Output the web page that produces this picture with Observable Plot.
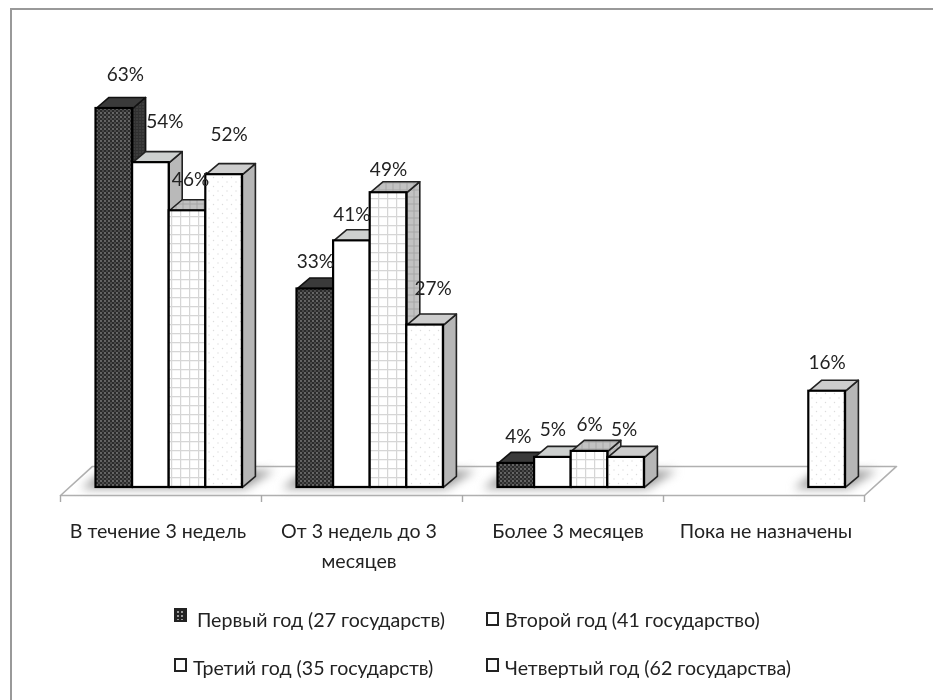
<!DOCTYPE html>
<html lang="ru"><head><meta charset="utf-8">
<script src="https://cdn.jsdelivr.net/npm/d3@7"></script>
<script src="https://cdn.jsdelivr.net/npm/@observablehq/plot@0.6"></script>
<style>
html,body{margin:0;padding:0;background:#fff}
body{width:933px;height:700px;position:relative;overflow:hidden;font-family:Lato,"Open Sans",sans-serif;color:#222}
#frame{position:absolute;left:10px;top:8px;width:923px;height:692px;border:0 solid #999;border-left-width:2px;border-top-width:2px;box-sizing:border-box}
#chart{position:absolute;left:0;top:0}
#chart svg{filter:blur(.45px)}
.leg{position:absolute;font-size:19.6px;line-height:20px;white-space:nowrap;filter:blur(.35px)}
.sw{position:absolute;width:13px;height:14px;box-sizing:border-box;border:2px solid #222}
</style></head><body>
<svg width="0" height="0" style="position:absolute"><defs>
<pattern id="pDark" width="4" height="4" patternUnits="userSpaceOnUse"><rect width="4" height="4" fill="#2b2b2b"/><circle cx="1" cy="1" r=".9" fill="#808080"/><circle cx="3" cy="3" r=".8" fill="#707070"/></pattern>
<pattern id="pDarkSide" width="3" height="3" patternUnits="userSpaceOnUse"><rect width="3" height="3" fill="#303030"/><circle cx="1.5" cy="1.5" r=".6" fill="#6a6a6a"/></pattern>
<pattern id="pGrid" width="9" height="9" patternUnits="userSpaceOnUse"><rect width="9" height="9" fill="#fff"/><path d="M0 .5H9M.5 0V9" stroke="#d6d6d6" stroke-width="1.4"/></pattern>
<pattern id="pGridSide" width="7" height="7" patternUnits="userSpaceOnUse"><rect width="7" height="7" fill="#c2c2c2"/><path d="M0 .5H7M.5 0V7" stroke="#a6a6a6" stroke-width="1"/></pattern>
<pattern id="pDots" width="9" height="9" patternUnits="userSpaceOnUse"><rect width="9" height="9" fill="#fff"/><circle cx="2" cy="2" r=".7" fill="#dcdcdc"/><circle cx="6.5" cy="6.5" r=".7" fill="#dcdcdc"/></pattern>
</defs></svg>
<div id="frame"></div>
<div id="chart"></div>
<script>
const categories = ["В течение 3 недель", "От 3 недель до 3\nмесяцев", "Более 3 месяцев", "Пока не назначены"];
const seriesNames = ["Первый год (27 государств)", "Второй год (41 государство)", "Третий год (35 государств)", "Четвертый год (62 государства)"];
const firstYear  = [63, 33, 4, null];
const secondYear = [54, 41, 5, null];
const thirdYear  = [46, 49, 6, null];
const fourthYear = [52, 27, 5, 16];
const series = [firstYear, secondYear, thirdYear, fourthYear];

// Look of each series: front, side and top face
const faces = [
  {front:"url(#pDark)", side:"url(#pDarkSide)", top:"#3a3a3a", edge:"#111"},
  {front:"#fff",        side:"#b9b9b9",         top:"#cdd0cf", edge:"#222"},
  {front:"url(#pGrid)", side:"url(#pGridSide)", top:"url(#pGridSide)", edge:"#222"},
  {front:"url(#pDots)", side:"#b6b6b6",         top:"#cdcdcd", edge:"#222"}
];
// Scale layout: one category is 201px wide, one percent is 6px tall
const pxX = 201, pxY = 6;
const gapX = 35.5 / pxX, barW = 36.6 / pxX;
const depthX = 13 / pxX, depthY = 11 / pxY;
const floorFront = -8 / pxY, floorBack = 21 / pxY, floorSkew = 32 / pxX;
// Pixel nudges of the data labels, per category and series [x, y above bar top]
const nudges = [
  [[11,34],[14,41],[3,31],[5,40]],
  [[0,27],[0,26],[0,23],[8,36]],
  [[2,26],[0,27],[0,26],[-2,27]],
  [[0,0],[0,0],[0,0],[0,28]]
];
const labelTicks = [.485, 1.485, 2.525, 3.51];

const poly = (pts, o) => Plot.line(pts, {x:"0", y:"1", curve:"linear-closed", ...o});
const marks = [];
// floor
marks.push(poly([[0,floorFront],[4,floorFront],[4+floorSkew,floorBack],[floorSkew,floorBack]], {fill:"#fff", stroke:"#b0b0b0", strokeWidth:1.6}));
// floor shadows
categories.forEach((_, c) => {
  const on = series.map(s => s[c] != null);
  const i0 = on.indexOf(true), i1 = on.lastIndexOf(true);
  const x0 = c + gapX + i0 * barW, x1 = c + gapX + (i1 + 1) * barW;
  marks.push(poly([[x0-15/pxX,-1/pxY],[x1+3/pxX,-1/pxY],[x1+32/pxX,17/pxY],[x0+8/pxX,17/pxY]], {fill:"#9e9e9e", stroke:"none", imageFilter:"blur(5px)"}));
});
// bars, painted left to right
categories.forEach((_, c) => {
  series.forEach((s, i) => {
    const v = s[c];
    if (v == null) return;
    const x1 = c + gapX + i * barW, x2 = x1 + barW, f = faces[i];
    const st = {stroke:f.edge, strokeWidth:1.6};
    marks.push(poly([[x2,0],[x2+depthX,depthY],[x2+depthX,v+depthY],[x2,v]], {fill:f.side, ...st}));
    marks.push(poly([[x1,v],[x2,v],[x2+depthX,v+depthY],[x1+depthX,v+depthY]], {fill:f.top, ...st}));
    marks.push(Plot.rect([0], {x1:()=>x1, x2:()=>x2, y1:()=>0, y2:()=>v, fill:f.front, stroke:"#000", strokeWidth:2.2}));
  });
});
// axis ticks and category labels
marks.push(Plot.axisX({ticks:[0,1,2,3,4], tickSize:7, stroke:"#a8a8a8", strokeWidth:1.4, tickFormat:()=>"", label:null}));
marks.push(Plot.axisX({ticks:labelTicks, tickSize:0, tickPadding:22, fontSize:19.6, lineHeight:1.5, lineAnchor:"top", fill:"#222", tickFormat:d=>categories[Math.floor(d)], label:null}));
// data labels
const labels = [];
categories.forEach((_, c) => series.forEach((s, i) => {
  if (s[c] == null) return;
  labels.push({x: c + gapX + (i + .5) * barW + nudges[c][i][0] / pxX, y: s[c] + nudges[c][i][1] / pxY, t: s[c] + "%"});
}));
marks.push(Plot.text(labels, {x:"x", y:"y", text:"t", fontSize:19, fill:"#222"}));

const chart = Plot.plot({
  width:933, height:590,
  marginLeft:60, marginRight:69, marginTop:108, marginBottom:95,
  style:{fontFamily:'Lato,"Open Sans",sans-serif', background:"transparent"},
  x:{type:"linear", domain:[0,4], axis:null},
  y:{type:"linear", domain:[floorFront,63], axis:null},
  marks
});
document.getElementById("chart").append(chart);

// Legend, below the SVG
const legendAt = [
  {sw:[174,608], tx:[197,610]},
  {sw:[486,612], tx:[505,610]},
  {sw:[174,658], tx:[193,658]},
  {sw:[486,658], tx:[505,658]}
];
legendAt.forEach((l, i) => {
  const sw = document.createElement("div");
  sw.className = "sw";
  sw.style.left = l.sw[0] + "px"; sw.style.top = l.sw[1] + "px";
  sw.style.background = i === 0 ? "radial-gradient(circle,#999 1px,#222 1.4px) 0 0/4px 4px" : "#fff";
  const t = document.createElement("div");
  t.className = "leg"; t.textContent = seriesNames[i];
  t.style.left = l.tx[0] + "px"; t.style.top = l.tx[1] + "px";
  document.body.append(sw, t);
});
</script></body></html>
